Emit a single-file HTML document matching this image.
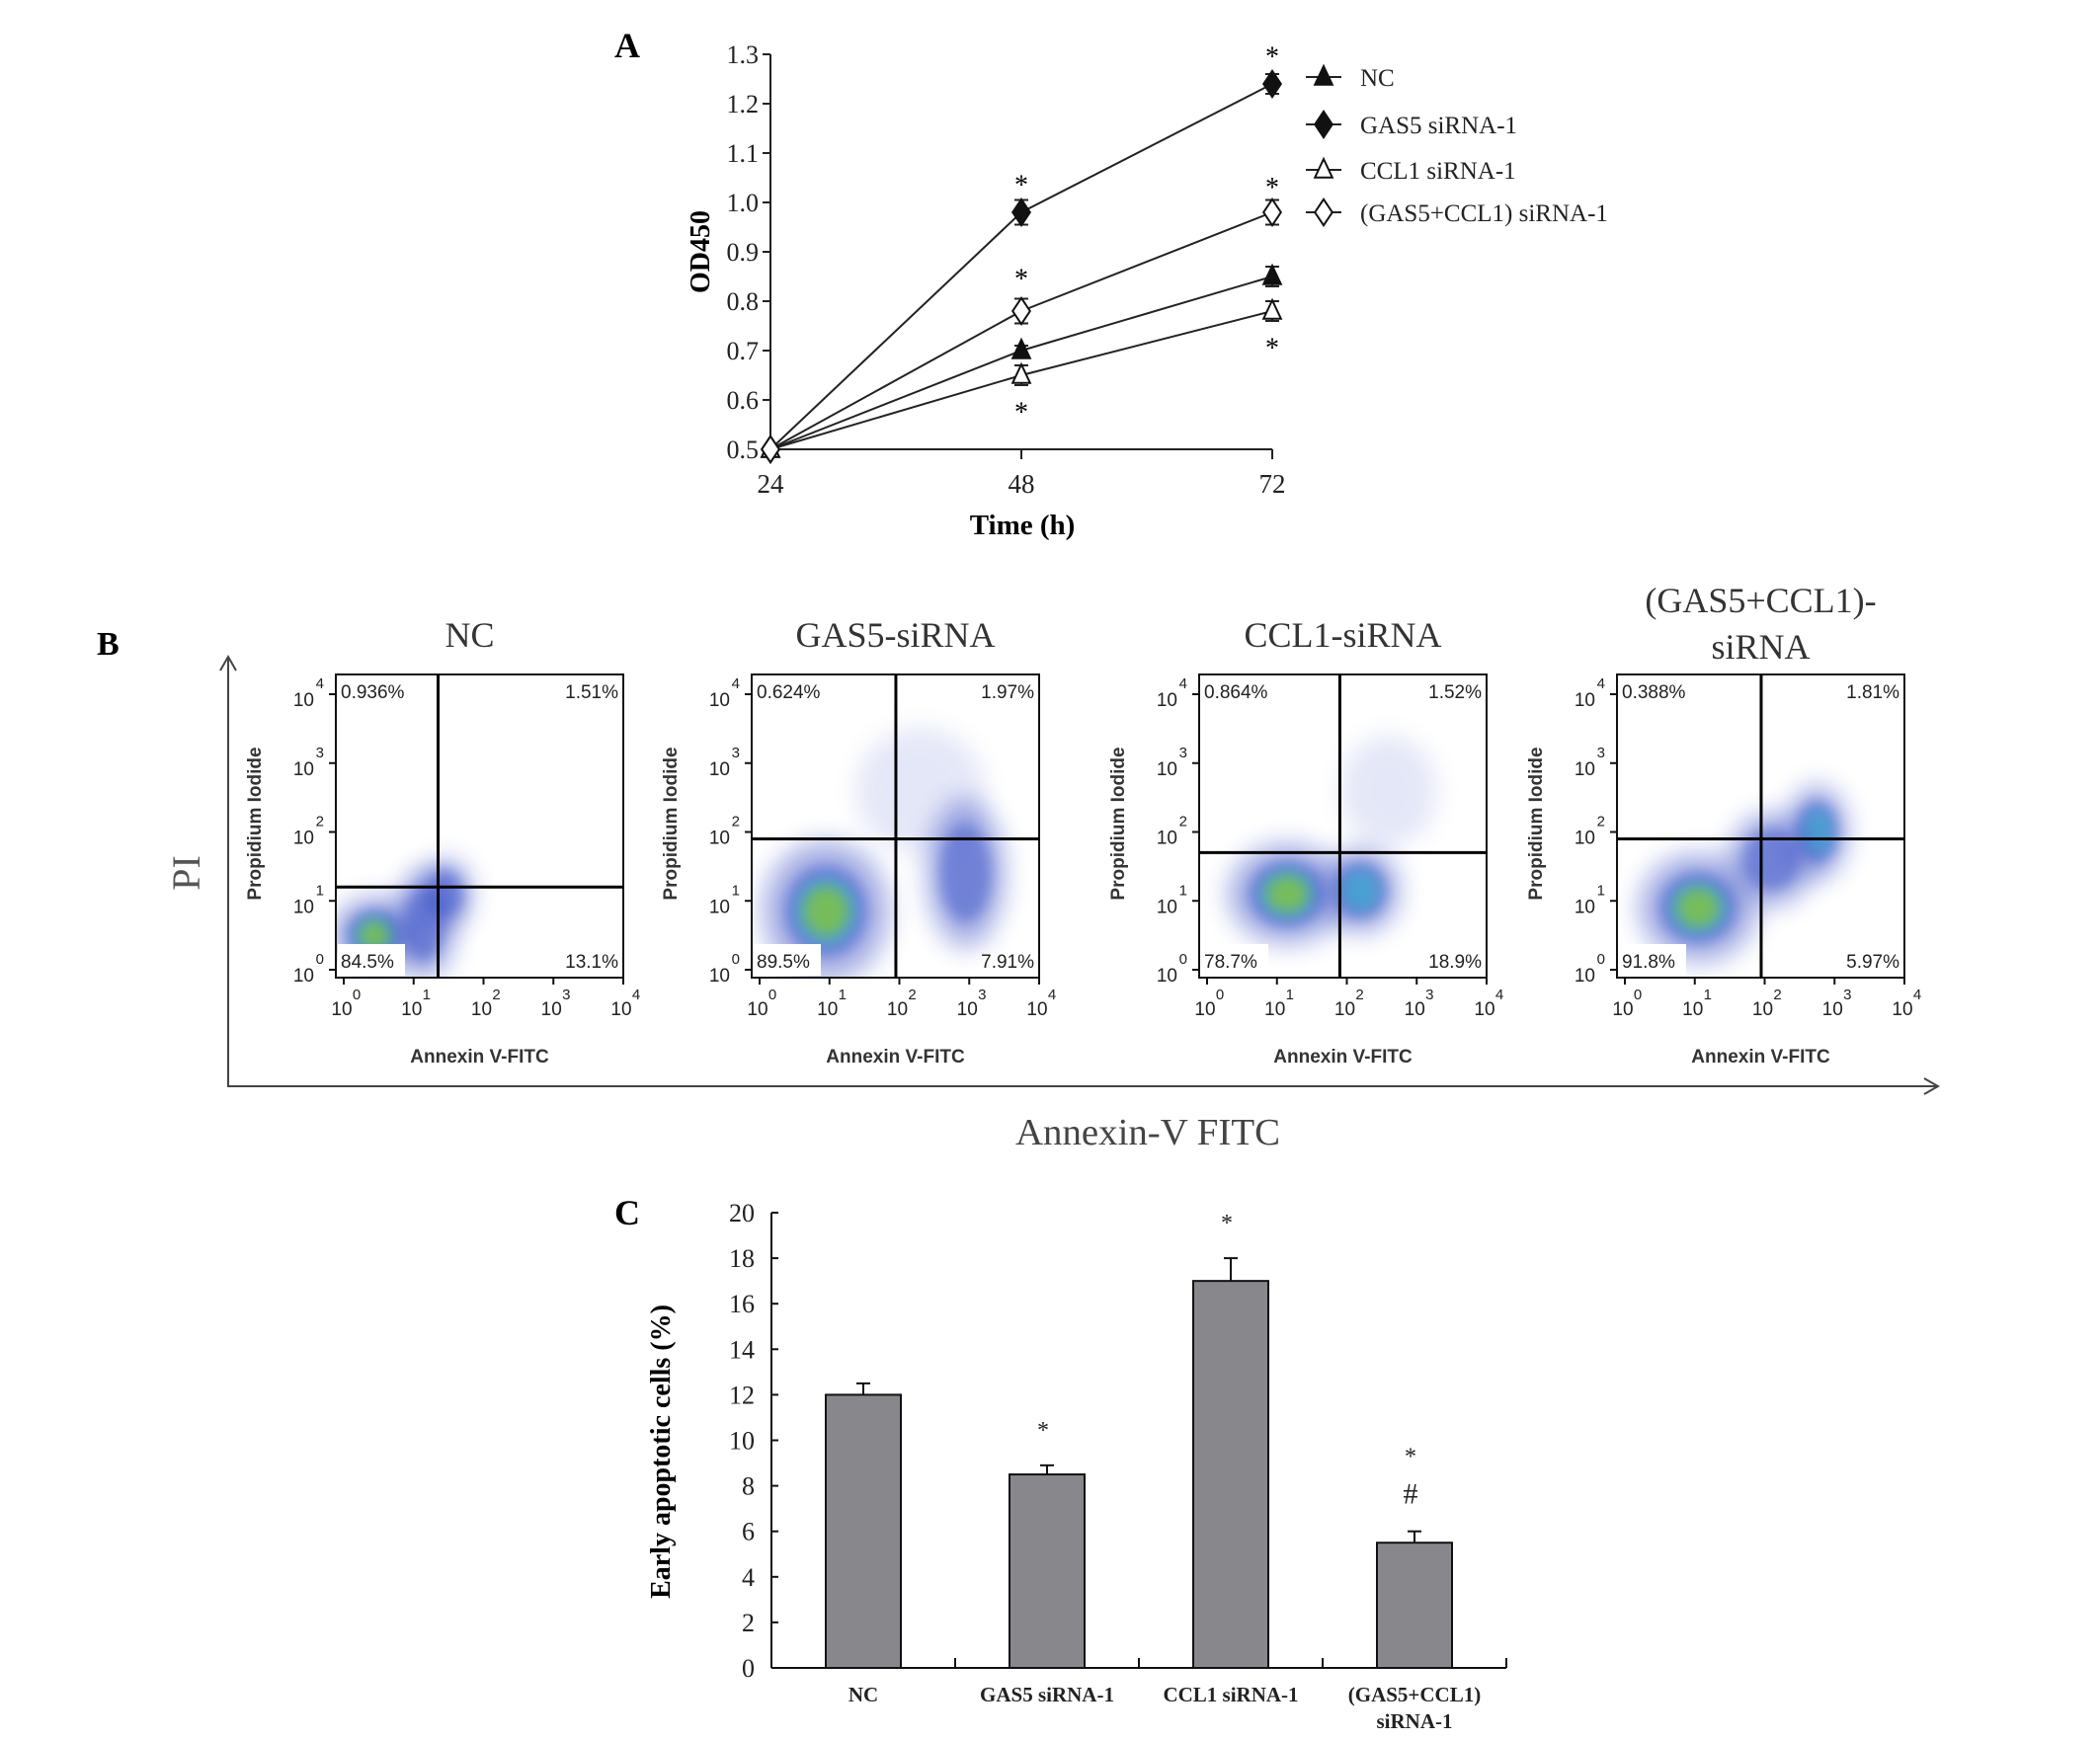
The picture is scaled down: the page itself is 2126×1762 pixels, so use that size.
<!DOCTYPE html>
<html><head><meta charset="utf-8"><style>
html,body{margin:0;padding:0;background:#fff}
svg{display:block}
.serif{font-family:"Liberation Serif",serif}
.sans{font-family:"Liberation Sans",sans-serif}
</style></head><body>
<svg id="fig" width="2126" height="1762" viewBox="0 0 2126 1762" xmlns="http://www.w3.org/2000/svg">
<defs>
<filter id="blurA" x="-60%" y="-60%" width="220%" height="220%"><feGaussianBlur stdDeviation="12"/></filter>
<filter id="blurB" x="-50%" y="-50%" width="200%" height="200%"><feGaussianBlur stdDeviation="7"/></filter>
<marker id="arrowhead" markerWidth="20" markerHeight="20" refX="16" refY="10" orient="auto" markerUnits="userSpaceOnUse"><path d="M2,2 L16,10 L2,18" fill="none" stroke="#444" stroke-width="2"/></marker>
</defs>
<g id="panelA"></g>
<g id="panelB"></g>
<g id="panelC"></g>
</svg>
<script>
// ---------- Panel A data ----------
const timePoints = [24, 48, 72];
const yTicksA = [0.5, 0.6, 0.7, 0.8, 0.9, 1.0, 1.1, 1.2, 1.3];
const yTickLabelsA = ["0.5","0.6","0.7","0.8","0.9","1.0","1.1","1.2","1.3"];
const seriesNames = ["NC", "GAS5 siRNA-1", "CCL1 siRNA-1", "(GAS5+CCL1) siRNA-1"];
const ncValues = [0.5, 0.70, 0.85];
const gas5Values = [0.5, 0.98, 1.24];
const ccl1Values = [0.5, 0.65, 0.78];
const comboValues = [0.5, 0.78, 0.98];
const ncErr = [0, 0.01, 0.02];
const gas5Err = [0, 0.025, 0.02];
const ccl1Err = [0, 0.02, 0.02];
const comboErr = [0, 0.025, 0.025];
const starTimes = [48, 72, 48, 72, 48, 72];
const starValues = [1.045, 1.305, 0.855, 1.04, 0.585, 0.715];

// ---------- Panel C data ----------
const categoriesC = ["NC", "GAS5 siRNA-1", "CCL1 siRNA-1", "(GAS5+CCL1)|siRNA-1"];
const apoptosisValues = [12, 8.5, 17, 5.5];
const apoptosisErr = [0.5, 0.4, 1.0, 0.5];
const yTicksC = [0,2,4,6,8,10,12,14,16,18,20];
const marksC = ["", "*", "*", "*|#"];

// ---------- Panel B data ----------
const flowTitles = ["NC", "GAS5-siRNA", "CCL1-siRNA", "(GAS5+CCL1)-|siRNA"];
const ulPct = ["0.936%", "0.624%", "0.864%", "0.388%"];
const urPct = ["1.51%", "1.97%", "1.52%", "1.81%"];
const llPct = ["84.5%", "89.5%", "78.7%", "91.8%"];
const lrPct = ["13.1%", "7.91%", "18.9%", "5.97%"];
const gateX = [1.35, 1.95, 1.9, 1.95];
const gateY = [1.2, 1.9, 1.7, 1.9];
const clusterPlot = [0,0,0, 1,1,1, 2,2,2, 3,3,3];
const clusterX = [0.45,1.15,1.45, 0.95,2.95,2.3, 1.15,2.2,2.6, 1.05,2.75,2.1];
const clusterY = [0.5,0.65,1.1, 0.85,1.4,2.6, 1.1,1.15,2.6, 0.9,2.0,1.6];
const clusterRX = [0.55,0.4,0.35, 0.8,0.5,0.8, 0.75,0.5,0.6, 0.75,0.4,0.55];
const clusterRY = [0.5,0.7,0.45, 0.9,0.95,0.8, 0.65,0.55,0.7, 0.7,0.6,0.6];
const clusterLevel = [3,1,1, 3,1,0, 3,2,0, 3,2,1];

const NS = "http://www.w3.org/2000/svg";
function mk(parent, tag, attrs, text){
  const e = document.createElementNS(NS, tag);
  for (const k in attrs) e.setAttribute(k, attrs[k]);
  if (text !== undefined) e.textContent = text;
  parent.appendChild(e); return e;
}

// ================= PANEL A =================
(function(){
  const g = document.getElementById('panelA');
  const x = t => 780 + (t-24)/48*508;
  const y = v => 455 - (v-0.5)/0.8*400;
  const t = mk(g,'text',{x:622,y:58,'font-size':36,'font-weight':'bold',class:'serif'},'A');
  
  
  const ax = mk(g,'line',{x1:780,y1:y(1.3),x2:780,y2:455,stroke:'#222','stroke-width':2});
  
  
  const xa = mk(g,'line',{x1:780,y1:455,x2:x(72),y2:455,stroke:'#222','stroke-width':2});
  
  
  yTicksA.forEach((v,i)=>{
    mk(g,'line',{x1:772,y1:y(v),x2:780,y2:y(v),stroke:'#222','stroke-width':2});
    const l = mk(g,'text',{x:768,y:y(v)+9,'font-size':26,'text-anchor':'end',class:'serif',fill:'#222'},yTickLabelsA[i]);
    
    
  });
  timePoints.forEach(tp=>{
    mk(g,'line',{x1:x(tp),y1:455,x2:x(tp),y2:465,stroke:'#222','stroke-width':2});
    const l = mk(g,'text',{x:x(tp),y:499,'font-size':27,'text-anchor':'middle',class:'serif',fill:'#222'},tp);
    
    
  });
  const yl = mk(g,'text',{x:0,y:0,'font-size':28,'font-weight':'bold','text-anchor':'middle',class:'serif',transform:'translate(718,255) rotate(-90)'},'OD450');
  
  
  const xl = mk(g,'text',{x:1035,y:541,'font-size':29,'font-weight':'bold','text-anchor':'middle',class:'serif'},'Time (h)');
  
  

  function marker(par, type, cx, cy){
    const s=11;
    if(type==='tri'||type==='otri'){
      return mk(par,'polygon',{points:`${cx},${cy-s} ${cx-s*0.8},${cy+s*0.7} ${cx+s*0.8},${cy+s*0.7}`,fill:type==='tri'?'#111':'#fff',stroke:'#111','stroke-width':2});
    }
    return mk(par,'polygon',{points:`${cx},${cy-s*1.2} ${cx+s*0.8},${cy} ${cx},${cy+s*1.2} ${cx-s*0.8},${cy}`,fill:type==='dia'?'#111':'#fff',stroke:'#111','stroke-width':2});
  }
  const allVals=[ncValues,gas5Values,ccl1Values,comboValues];
  const allErr=[ncErr,gas5Err,ccl1Err,comboErr];
  const types=['tri','dia','otri','odia'];
  const names=['nc','gas5','ccl1','combo'];
  allVals.forEach((vals,si)=>{
    const sg = mk(g,'g',{});
    
    
    const pts = vals.map((v,i)=>x(timePoints[i])+','+y(v)).join(' ');
    mk(sg,'polyline',{points:pts,fill:'none',stroke:'#222','stroke-width':2});
    vals.forEach((v,i)=>{
      const e = allErr[si][i];
      if(e>0){
        const cx=x(timePoints[i]);
        mk(sg,'line',{x1:cx,y1:y(v+e),x2:cx,y2:y(v-e),stroke:'#222','stroke-width':2});
        mk(sg,'line',{x1:cx-7,y1:y(v+e),x2:cx+7,y2:y(v+e),stroke:'#222','stroke-width':2});
        mk(sg,'line',{x1:cx-7,y1:y(v-e),x2:cx+7,y2:y(v-e),stroke:'#222','stroke-width':2});
      }
      const m = marker(sg,types[si],x(timePoints[i]),y(v));
      
      
    });
  });
  starTimes.forEach((tp,i)=>{
    const s = mk(g,'text',{x:x(tp),y:y(starValues[i])+14,'font-size':28,'text-anchor':'middle',class:'serif'},'*');
    
    
  });
  const legY=[78,126,172,215];
  seriesNames.forEach((n,i)=>{
    const lg = mk(g,'g',{});
    
    
    mk(lg,'line',{x1:1322,y1:legY[i],x2:1358,y2:legY[i],stroke:'#222','stroke-width':2});
    marker(lg,types[i],1340,legY[i]);
    mk(lg,'text',{x:1377,y:legY[i]+9,'font-size':25,class:'serif',fill:'#222'},n);
  });
})();

// ================= PANEL B =================
(function(){
  const g = document.getElementById('panelB');
  const b = mk(g,'text',{x:98,y:663,'font-size':34,'font-weight':'bold',class:'serif'},'B');
  
  
  const va = mk(g,'line',{x1:231,y1:1100,x2:231,y2:665,stroke:'#444','stroke-width':2,'marker-end':'url(#arrowhead)'});
  
  
  const ha = mk(g,'line',{x1:230,y1:1100,x2:1962,y2:1100,stroke:'#444','stroke-width':2,'marker-end':'url(#arrowhead)'});
  
  
  const pi = mk(g,'text',{x:0,y:0,'font-size':40,'text-anchor':'middle',class:'serif',fill:'#555',transform:'translate(202,884) rotate(-90)'},'PI');
  
  
  const an = mk(g,'text',{x:1162,y:1159,'font-size':38,'text-anchor':'middle',class:'serif',fill:'#444',textLength:268,lengthAdjust:'spacingAndGlyphs'},'Annexin-V FITC');
  
  

  const lefts=[340,761,1214,1637], W=291, top=683, bot=990;
  flowTitles.forEach((title,p)=>{
    const L=lefts[p];
    const xs=v=>L+8+v/4*(W-8);
    const ys=v=>bot-8-v/4*(bot-top-28);
    const pg = mk(g,'g',{});
    
    
    const cp = mk(document.querySelector('defs'),'clipPath',{id:'clip'+p});
    mk(cp,'rect',{x:L,y:top,width:W,height:bot-top});
    const cg = mk(pg,'g',{'clip-path':'url(#clip'+p+')'});
    clusterPlot.forEach((cpI,k)=>{
      if(cpI!==p) return;
      const cx=xs(clusterX[k]), cy=ys(clusterY[k]);
      const rx=clusterRX[k]/4*(W-8), ry=clusterRY[k]/4*(bot-top-28);
      const lv=clusterLevel[k];
      const e1 = mk(cg,'ellipse',{cx,cy,rx:rx*1.15,ry:ry*1.15,fill:'#4a5cc8',opacity:lv===0?0.14:0.45,filter:'url(#blurA)'});
      
      
      if(lv>=1) mk(cg,'ellipse',{cx,cy,rx:rx*0.75,ry:ry*0.75,fill:'#3550c8',opacity:0.5,filter:'url(#blurB)'});
      if(lv>=2) mk(cg,'ellipse',{cx,cy,rx:rx*0.55,ry:ry*0.55,fill:'#3aaed0',opacity:0.7,filter:'url(#blurB)'});
      if(lv>=3) mk(cg,'ellipse',{cx,cy,rx:rx*0.4,ry:ry*0.4,fill:'#7fc246',opacity:0.85,filter:'url(#blurB)'});
    });
    mk(pg,'rect',{x:L,y:top,width:W,height:bot-top,fill:'none',stroke:'#111','stroke-width':2});
    mk(pg,'line',{x1:xs(gateX[p]),y1:top,x2:xs(gateX[p]),y2:bot,stroke:'#000','stroke-width':3});
    mk(pg,'line',{x1:L,y1:ys(gateY[p]),x2:L+W,y2:ys(gateY[p]),stroke:'#000','stroke-width':3});
    mk(pg,'rect',{x:L+2,y:bot-34,width:68,height:32,fill:'#fff'});
    mk(pg,'text',{x:L+5,y:top+24,'font-size':19,class:'sans',fill:'#222'},ulPct[p]);
    mk(pg,'text',{x:L+W-5,y:top+24,'font-size':19,'text-anchor':'end',class:'sans',fill:'#222'},urPct[p]);
    mk(pg,'text',{x:L+5,y:bot-10,'font-size':19,class:'sans',fill:'#222'},llPct[p]);
    mk(pg,'text',{x:L+W-5,y:bot-10,'font-size':19,'text-anchor':'end',class:'sans',fill:'#222'},lrPct[p]);
    for(let d=0; d<=4; d++){
      mk(pg,'line',{x1:L-7,y1:ys(d),x2:L,y2:ys(d),stroke:'#111','stroke-width':2});
      const yt = mk(pg,'text',{x:L-22,y:ys(d)+12,'font-size':19,'text-anchor':'end',class:'sans',fill:'#222'},'10');
      
      
      mk(pg,'text',{x:L-12,y:ys(d)-6,'font-size':15,'text-anchor':'end',class:'sans',fill:'#222'},d);
      mk(pg,'line',{x1:xs(d),y1:bot,x2:xs(d),y2:bot+7,stroke:'#111','stroke-width':2});
      const xt = mk(pg,'text',{x:xs(d)-2,y:bot+38,'font-size':19,'text-anchor':'middle',class:'sans',fill:'#222'},'10');
      
      
      mk(pg,'text',{x:xs(d)+13,y:bot+22,'font-size':15,'text-anchor':'middle',class:'sans',fill:'#222'},d);
    }
    const xt = mk(pg,'text',{x:L+W/2,y:bot+86,'font-size':19,'font-weight':'bold','text-anchor':'middle',class:'sans',fill:'#333'},'Annexin V-FITC');
    
    
    const yt = mk(pg,'text',{x:0,y:0,'font-size':19,'font-weight':'bold','text-anchor':'middle',class:'sans',fill:'#333',transform:`translate(${L-76},834) rotate(-90)`},'Propidium Iodide');
    
    
    const parts = title.split('|');
    const cx = L+W/2+(p===0?-10:0);
    if(parts.length===1){
      const tt = mk(pg,'text',{x:cx,y:655,'font-size':36,'text-anchor':'middle',class:'serif',fill:'#333'},parts[0]);
      
      
    } else {
      const tt = mk(pg,'text',{x:cx,y:620,'font-size':36,'text-anchor':'middle',class:'serif',fill:'#333'},parts[0]);
      
      
      mk(pg,'text',{x:cx,y:667,'font-size':36,'text-anchor':'middle',class:'serif',fill:'#333'},parts[1]);
    }
  });
})();

// ================= PANEL C =================
(function(){
  const g = document.getElementById('panelC');
  const y = v => 1689 - v/20*461;
  const x0 = 781, cw = 186;
  const c = mk(g,'text',{x:622,y:1240,'font-size':36,'font-weight':'bold',class:'serif'},'C');
  
  
  const ax = mk(g,'line',{x1:x0,y1:y(20),x2:x0,y2:1689,stroke:'#111','stroke-width':2});
  
  
  const xa = mk(g,'line',{x1:x0,y1:1689,x2:x0+cw*4,y2:1689,stroke:'#111','stroke-width':2});
  
  
  yTicksC.forEach(v=>{
    mk(g,'line',{x1:x0,y1:y(v),x2:x0+7,y2:y(v),stroke:'#111','stroke-width':2});
    const l = mk(g,'text',{x:764,y:y(v)+9,'font-size':26,'text-anchor':'end',class:'serif',fill:'#222'},v);
    
    
  });
  for(let i=1;i<=4;i++) mk(g,'line',{x1:x0+cw*i,y1:1689,x2:x0+cw*i,y2:1679,stroke:'#111','stroke-width':2});
  const yl = mk(g,'text',{x:0,y:0,'font-size':28,'font-weight':'bold','text-anchor':'middle',class:'serif',transform:'translate(678,1470) rotate(-90)'},'Early apoptotic cells (%)');
  
  
  categoriesC.forEach((cat,i)=>{
    const cx = x0 + cw*(i+0.5);
    const v = apoptosisValues[i], e = apoptosisErr[i];
    mk(g,'line',{x1:cx,y1:y(v),x2:cx,y2:y(v+e),stroke:'#111','stroke-width':2});
    mk(g,'line',{x1:cx-7,y1:y(v+e),x2:cx+7,y2:y(v+e),stroke:'#111','stroke-width':2});
    const bar = mk(g,'rect',{x:cx-38,y:y(v),width:76,height:1689-y(v),fill:'#88888c',stroke:'#111','stroke-width':2});
    
    
    const parts = cat.split('|');
    parts.forEach((p,j)=>{
      const l = mk(g,'text',{x:cx,y:1723+j*27,'font-size':21,'font-weight':'bold','text-anchor':'middle',class:'serif',fill:'#222'},p);
      
      
    });
    const mks = marksC[i] ? marksC[i].split('|') : [];
    mks.forEach((m,j)=>{
      const ty = y(v+e) - 28 + (j-(mks.length-1))*40;
      const s = mk(g,'text',{x:cx-4,y:ty,'font-size':m==='#'?30:24,'text-anchor':'middle',class:'serif',fill:'#222'},m);
      
      
    });
  });
})();
</script>
</body></html>
